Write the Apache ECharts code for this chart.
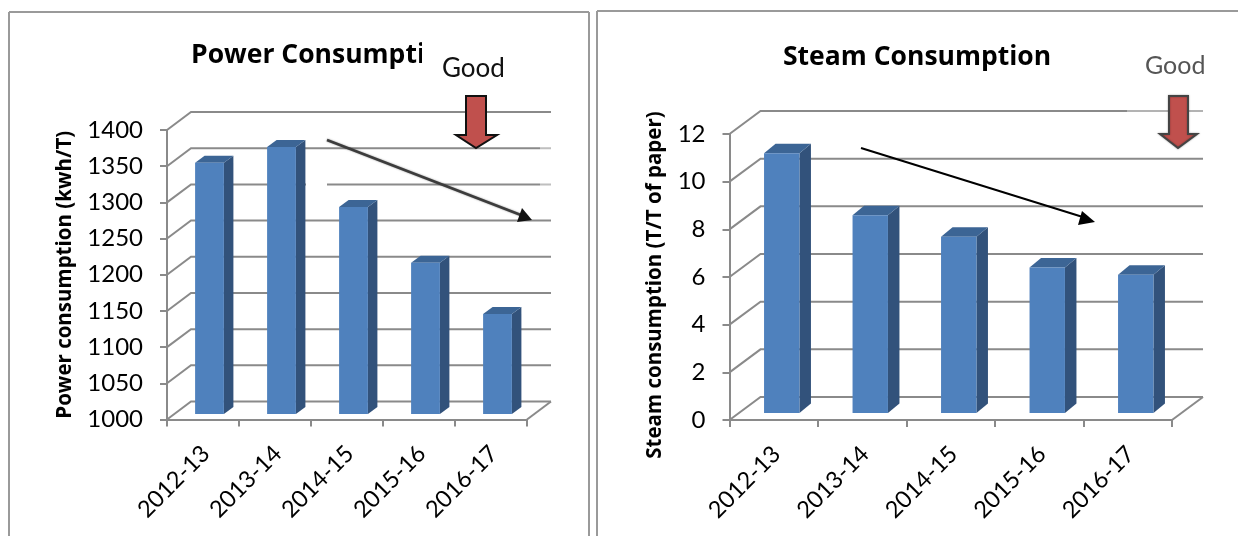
<!DOCTYPE html>
<html>
<head>
<meta charset="utf-8">
<style>html,body{margin:0;padding:0;background:#fff}#chart{width:1238px;height:536px}</style>
<script src="https://cdn.jsdelivr.net/npm/echarts@6/dist/echarts.min.js"></script>
</head>
<body>
<div id="chart"></div>
<script>
// Yearly figures for each utility
const years = ['2012-13', '2013-14', '2014-15', '2015-16', '2016-17'];
const powerValues = [1347, 1369, 1286, 1209, 1138];
const steamValues = [10.9, 8.3, 7.4, 6.1, 5.8];
const powerTicks = [1000, 1050, 1100, 1150, 1200, 1250, 1300, 1350, 1400];
const steamTicks = [0, 2, 4, 6, 8, 10, 12];

const FONT = 'Lato';
const BOLD_FONT = 'Open Sans';
const GRID_GREY = '#8a8a8a';

// Pseudo-3D column: front face, side face and top face
function columnRenderer(valueMin, depth) {
  return function (params, api) {
    const i = api.value(0);
    const top = api.coord([i, api.value(1)]);
    const base = api.coord([i, valueMin]);
    const w = api.size([1, 0])[0] * 0.4;
    const l = top[0] - w / 2 + depth.fx, r = l + w;
    const t = top[1] + depth.fy, b = base[1] + depth.fy;
    const sx = depth.sx, sy = depth.sy;
    return {
      type: 'group',
      children: [
        { type: 'polygon', shape: { points: [[r, t], [r + sx, t + sy], [r + sx, b + sy], [r, b]] }, style: { fill: '#32527b' } },
        { type: 'polygon', shape: { points: [[l, t], [l + sx, t + sy], [r + sx, t + sy], [r, t]] }, style: { fill: '#3c6595' } },
        { type: 'rect', shape: { x: l, y: t, width: w, height: b - t }, style: { fill: '#4f81bd' } }
      ]
    };
  };
}

// Wall gridline with its slanted stub back to the value axis
function wallRenderer(valueMin, depth) {
  return function (params, api) {
    const p = api.coord([0, api.value(1)]);
    const cs = params.coordSys;
    const x0 = cs.x, x1 = cs.x + cs.width;
    const xb = x0 + depth.wx, yb = p[1] + depth.wy;
    const children = [{
      type: 'polyline',
      shape: { points: [[x0, p[1]], [xb, yb], [x1 + depth.wx, yb]] },
      style: { stroke: GRID_GREY, lineWidth: 2, fill: 'none' }
    }];
    if (api.value(1) === valueMin) {
      children.push({
        type: 'line',
        shape: { x1: x1, y1: p[1], x2: x1 + depth.wx, y2: yb },
        style: { stroke: GRID_GREY, lineWidth: 2 }
      });
    }
    return { type: 'group', children };
  };
}

function xAxisFor(gridIndex, margin) {
  return {
    type: 'category', gridIndex, data: years,
    boundaryGap: true,
    axisLine: { lineStyle: { color: GRID_GREY, width: 2 } },
    axisTick: { show: true, length: 7, alignWithLabel: false, lineStyle: { color: GRID_GREY, width: 2 } },
    axisLabel: { rotate: 45, interval: 0, margin, color: '#000', fontFamily: FONT, fontSize: 23.5, padding: [0, -4, 0, 0] }
  };
}

function yAxisFor(gridIndex, min, max, interval, name, nameGap, namePadding, fontSize) {
  return {
    type: 'value', gridIndex, min, max, interval,
    name, nameLocation: 'middle', nameGap, nameRotate: 90,
    nameTextStyle: { color: '#000', fontFamily: BOLD_FONT, fontWeight: 'bold', fontSize, padding: namePadding },
    axisLine: { show: true, onZero: false, lineStyle: { color: GRID_GREY, width: 2 } },
    axisTick: { show: true, length: 7, lineStyle: { color: GRID_GREY, width: 2 } },
    axisLabel: { margin: 24, color: '#000', fontFamily: FONT, fontSize: 24, formatter: v => String(v) },
    splitLine: { show: false }
  };
}

const powerDepth = { fx: 6.5, fy: -5.5, sx: 9.5, sy: -7, wx: 24, wy: -18 };
const steamDepth = { fx: 8, fy: -7, sx: 11.5, sy: -9.5, wx: 31, wy: -23 };

function frameLine(x1, y1, x2, y2) {
  return { type: 'line', z: 50, shape: { x1, y1, x2, y2 }, style: { stroke: '#9a9a9a', lineWidth: 2 } };
}

function blockArrow(pts, stroke, blur) {
  return {
    type: 'polygon', z: 60, shape: { points: pts },
    style: { fill: '#c0504d', stroke, lineWidth: 2, shadowBlur: blur, shadowColor: 'rgba(0,0,0,0.35)' }
  };
}

const option = {
  animation: false,
  backgroundColor: '#fff',
  title: [
    { text: 'Power Consumpti', left: 186, top: 37, z: 10,
      textStyle: { color: '#000', fontFamily: BOLD_FONT, fontWeight: 'bold', fontSize: 26.5 } },
    { text: 'Steam Consumption', left: 778, top: 39, z: 10,
      textStyle: { color: '#000', fontFamily: BOLD_FONT, fontWeight: 'bold', fontSize: 26.5 } }
  ],
  grid: [
    { left: 167, top: 130, width: 360, height: 289.5 },
    { left: 729.5, top: 134, width: 442.5, height: 286 }
  ],
  xAxis: [xAxisFor(0, 33), xAxisFor(1, 33)],
  yAxis: [
    yAxisFor(0, 1000, 1400, 50, 'Power consumption (kwh/T)', 91, 0, 20.5),
    yAxisFor(1, 0, 12, 2, 'Steam consumption (T/T of paper)', 64, [0, 16, 0, 0], 20.5)
  ],
  series: [
    { type: 'custom', name: 'Power gridlines', xAxisIndex: 0, yAxisIndex: 0, z: 1, clip: false, silent: true,
      data: powerTicks.map(t => [0, t]), renderItem: wallRenderer(powerTicks[0], powerDepth) },
    { type: 'custom', name: 'Power consumption', xAxisIndex: 0, yAxisIndex: 0, z: 3, clip: false,
      data: powerValues.map((v, i) => [i, v]), renderItem: columnRenderer(powerTicks[0], powerDepth) },
    { type: 'custom', name: 'Steam gridlines', xAxisIndex: 1, yAxisIndex: 1, z: 1, clip: false, silent: true,
      data: steamTicks.map(t => [0, t]), renderItem: wallRenderer(steamTicks[0], steamDepth) },
    { type: 'custom', name: 'Steam consumption', xAxisIndex: 1, yAxisIndex: 1, z: 3, clip: false,
      data: steamValues.map((v, i) => [i, v]), renderItem: columnRenderer(steamTicks[0], steamDepth) }
  ],
  graphic: { elements: [
    // panel borders
    frameLine(9, 12, 589, 12), frameLine(9, 12, 9, 536), frameLine(589, 12, 589, 536),
    frameLine(597, 11, 1238, 11), frameLine(597, 11, 597, 536),

    // text boxes laid over the panels
    { type: 'rect', z: 40, shape: { x: 422, y: 30, width: 30, height: 50 }, style: { fill: '#fff' } },
    { type: 'rect', z: 40, shape: { x: 306, y: 176, width: 21, height: 14 }, style: { fill: '#fff' } },
    { type: 'rect', z: 40, shape: { x: 540, y: 142, width: 14, height: 46 }, style: { fill: 'rgba(255,255,255,0.45)' } },
    { type: 'rect', z: 40, shape: { x: 1127, y: 105, width: 80, height: 12 }, style: { fill: 'rgba(255,255,255,0.35)' } },

    { type: 'text', z: 60, x: 442, y: 56, style: { text: 'Good', fill: '#111', font: '26px ' + FONT } },
    { type: 'text', z: 60, x: 1145, y: 53, style: { text: 'Good', fill: '#555', font: '25px ' + FONT, shadowBlur: 1, shadowColor: '#777' } },

    // "lower is better" block arrows
    blockArrow([[466, 96], [486, 96], [486, 135], [497, 135], [476, 148], [456, 135], [466, 135]], '#111', 0),
    blockArrow([[1169, 96], [1188, 96], [1188, 134], [1197, 134], [1178, 148], [1160, 134], [1169, 134]], '#444', 2),

    // trend arrows
    { type: 'line', z: 60, shape: { x1: 327, y1: 140, x2: 526, y2: 217 },
      style: { stroke: '#3c3c3c', lineWidth: 2.6, shadowBlur: 2, shadowColor: 'rgba(0,0,0,0.4)' } },
    { type: 'polygon', z: 60, shape: { points: [[532, 220], [522, 208], [517, 222]] }, style: { fill: '#111' } },
    { type: 'line', z: 60, shape: { x1: 861, y1: 148, x2: 1086, y2: 218 },
      style: { stroke: '#000', lineWidth: 2 } },
    { type: 'polygon', z: 60, shape: { points: [[1095, 222], [1082, 211], [1078, 225]] }, style: { fill: '#000' } }
  ] }
};

echarts.init(document.getElementById('chart'), null, { renderer: 'canvas' }).setOption(option);
</script>
</body>
</html>
